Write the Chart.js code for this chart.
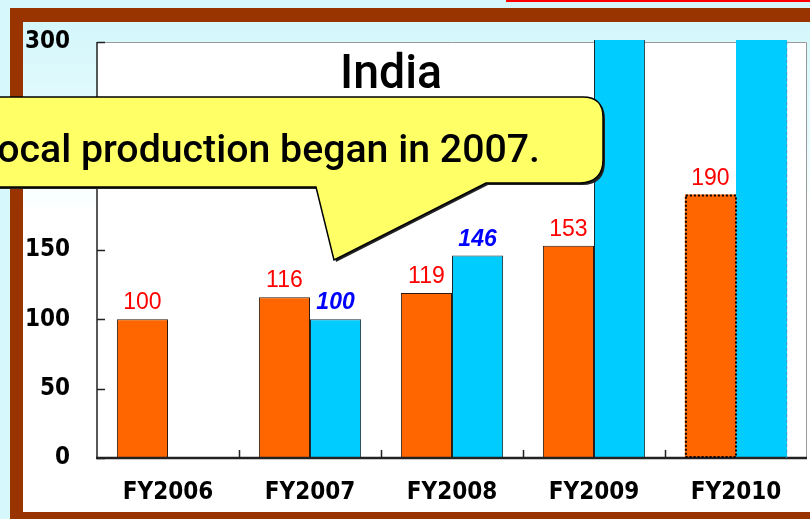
<!DOCTYPE html>
<html>
<head>
<meta charset="utf-8">
<script src="https://cdn.jsdelivr.net/npm/chart.js@4.4.0/dist/chart.umd.min.js"></script>
<style>
  html, body { margin: 0; padding: 0; }
  body { width: 810px; height: 519px; overflow: hidden; position: relative; background: #d6f7fb; }
  #redline { position: absolute; left: 506px; top: 0; width: 310px; height: 2px; background: #ff0000; }
  #frame { position: absolute; left: 10px; top: 8px; width: 820px; height: 511px; box-sizing: border-box;
           border-left: 13px solid #993300; border-top: 14px solid #993300; border-bottom: 7px solid #993300;
           background: linear-gradient(#d4f7fb 0px, #e8fbfd 120px, #ffffff 190px); }
  #wrap { position: absolute; left: 0; top: 0; width: 810px; height: 519px; }
  #overlay { position: absolute; left: 0; top: 0; }
</style>
</head>
<body>
<div id="redline"></div>
<div id="frame"></div>
<div id="wrap"><canvas id="chart" width="810" height="519"></canvas></div>
<svg id="overlay" width="810" height="519">
  <text x="391" y="88" text-anchor="middle" textLength="102" lengthAdjust="spacingAndGlyphs"
        font-family="Roboto" font-weight="500" font-size="48" fill="#000">India</text>
  <path d="M -30 99 H 585 Q 605 99 605 119 V 162 Q 605 185 582 185 H 488 L 336 262 L 318 189 H -30 Z" fill="#222"/>
  <path d="M -30 97 H 583 Q 603 97 603 117 V 160 Q 603 182 580 183 H 486 L 334 260 L 316 187 H -30 Z"
        fill="#ffff66" stroke="#000" stroke-width="1.5"/>
  <text x="-24" y="162" textLength="564" lengthAdjust="spacingAndGlyphs"
        font-family="Roboto" font-weight="500" font-size="39" fill="#000">Local production began in 2007.</text>
</svg>
<script>
// fiscal years on the x axis
const categories = ['FY2006', 'FY2007', 'FY2008', 'FY2009', 'FY2010'];
// index, FY2006 = 100 (orange series)
const orangeValues = [100, 116, 119, 153, 190];
// index, FY2007 = 100 (cyan series) - last two run off the top of the chart
const cyanValues = [null, 100, 146, 330, 390];
const yTicks = [0, 50, 100, 150, 200, 250, 300];

const Y_MAX = 300;
const AXIS_FONT = { family: "'DejaVu Sans Condensed', Roboto", size: 24, weight: 'bold' };

// white plot area, frame lines and inner tick marks
const axesPlugin = {
  id: 'axes',
  beforeDatasetsDraw(chart) {
    const { ctx, chartArea: a } = chart;
    ctx.save();
    ctx.fillStyle = '#ffffff';
    ctx.fillRect(a.left, a.top, a.right - a.left, a.bottom - a.top);
    ctx.strokeStyle = '#9a9a9a';
    ctx.lineWidth = 1;
    ctx.beginPath();
    ctx.moveTo(a.left, a.top + 0.5);
    ctx.lineTo(a.right - 0.5, a.top + 0.5);
    ctx.lineTo(a.right - 0.5, a.bottom);
    ctx.stroke();
    ctx.restore();
  },
  afterDatasetsDraw(chart) {
    const { ctx, chartArea: a, scales } = chart;
    ctx.save();
    ctx.strokeStyle = '#222';
    ctx.lineWidth = 1.5;
    ctx.beginPath();
    ctx.moveTo(a.left, a.top);
    ctx.lineTo(a.left, a.bottom);
    yTicks.forEach(v => {
      const y = Math.round(scales.y.getPixelForValue(v)) + 0.5;
      ctx.moveTo(a.left, y);
      ctx.lineTo(a.left + 8, y);
    });
    for (let i = 0; i < categories.length - 1; i++) {
      const x = Math.round((scales.x.getPixelForValue(i) + scales.x.getPixelForValue(i + 1)) / 2) + 0.5;
      ctx.moveTo(x, a.bottom);
      ctx.lineTo(x, a.bottom - 8);
    }
    ctx.stroke();
    ctx.lineWidth = 2.5;
    ctx.beginPath();
    ctx.moveTo(a.left - 1, a.bottom);
    ctx.lineTo(a.right, a.bottom);
    ctx.stroke();
    ctx.restore();
  }
};

// value labels above bars, dotted outline on the FY2010 estimate
const labelsPlugin = {
  id: 'valueLabels',
  afterDatasetsDraw(chart) {
    const { ctx } = chart;
    ctx.save();
    ctx.textAlign = 'center';
    ctx.textBaseline = 'alphabetic';
    chart.data.datasets.forEach((ds, di) => {
      const meta = chart.getDatasetMeta(di);
      meta.data.forEach((bar, i) => {
        const v = ds.data[i];
        if (v == null) return;
        if (i === categories.length - 1) {
          const w = bar.width;
          ctx.save();
          ctx.setLineDash(di === 0 ? [2, 2] : [3, 3]);
          ctx.strokeStyle = di === 0 ? '#000' : '#3399cc';
          ctx.lineWidth = di === 0 ? 2 : 1;
          ctx.beginPath();
          if (di === 0) {
            ctx.rect(bar.x - w / 2 + 1, bar.y + 1, w - 1, bar.base - bar.y - 2);
          } else {
            ctx.moveTo(bar.x + w / 2 - 0.5, chart.chartArea.top);
            ctx.lineTo(bar.x + w / 2 - 0.5, bar.base);
          }
          ctx.stroke();
          ctx.restore();
        }
        if (v > Y_MAX) return;
        if (di === 0) {
          ctx.font = "23px 'Liberation Sans'";
          ctx.fillStyle = '#ff0000';
        } else {
          ctx.font = "italic bold 23px 'Liberation Sans'";
          ctx.fillStyle = '#0000ff';
        }
        ctx.fillText(String(v), bar.x, bar.y - 10);
      });
    });
    ctx.restore();
  }
};

new Chart(document.getElementById('chart'), {
  type: 'bar',
  data: {
    labels: categories,
    datasets: [
      {
        data: orangeValues,
        backgroundColor: '#ff6600',
        borderColor: '#2a1a10',
        borderWidth: [1, 1, 1, 1, 0],
        borderSkipped: 'bottom',
        categoryPercentage: 0.72,
        barPercentage: 1.0,
        clip: { left: 0, top: 2, right: 0, bottom: 0 }
      },
      {
        data: cyanValues,
        backgroundColor: '#00ccff',
        borderColor: '#1a2a30',
        borderWidth: [1, 1, 1, 1, 0],
        borderSkipped: 'bottom',
        categoryPercentage: 0.72,
        barPercentage: 1.0,
        clip: { left: 0, top: 2, right: 0, bottom: 0 }
      }
    ]
  },
  options: {
    responsive: false,
    animation: false,
    layout: { padding: { left: 0, top: 42, right: 3, bottom: 0 } },
    plugins: {
      legend: { display: false },
      tooltip: { enabled: false },
      title: { display: false }
    },
    scales: {
      x: {
        grid: { display: false, drawTicks: false },
        border: { display: false },
        ticks: { color: '#000', padding: 20, font: AXIS_FONT },
        afterFit(scale) { scale.height = 61; }
      },
      y: {
        min: 0,
        max: Y_MAX,
        grid: { display: false, drawTicks: false },
        border: { display: false },
        ticks: { stepSize: 50, color: '#000', padding: 27, font: AXIS_FONT },
        afterFit(scale) { scale.width = 97; }
      }
    }
  },
  plugins: [axesPlugin, labelsPlugin]
});
</script>
</body>
</html>
